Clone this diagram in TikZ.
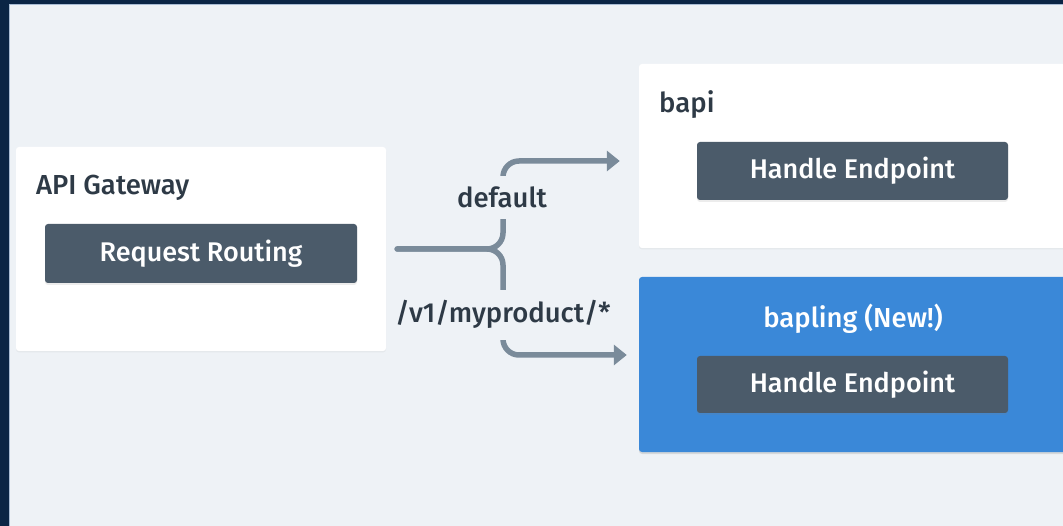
\documentclass[tikz,border=0pt]{standalone}
\usepackage{fontspec}
\setmainfont{Fira Sans Medium}
\usetikzlibrary{arrows.meta,shadows}

\definecolor{pagebg}{HTML}{EEF2F6}
\definecolor{frame}{HTML}{0B2545}
\definecolor{frameline}{HTML}{A9BCD4}
\definecolor{slate}{HTML}{4B5B6A}
\definecolor{newblue}{HTML}{3A88D8}
\definecolor{wire}{HTML}{7A8B9A}
\definecolor{ink}{HTML}{2E3A46}

\tikzset{
  panel/.style={fill=white, rounded corners=3pt, inner sep=0pt,
    drop shadow={shadow xshift=0pt, shadow yshift=-1.5pt, opacity=0.08}},
  newpanel/.style={panel, fill=newblue,
    drop shadow={shadow xshift=0pt, shadow yshift=-2pt, opacity=0.18}},
  button/.style={fill=slate, rounded corners=3pt, inner sep=0pt,
    text=white, font=\fontsize{27}{31}\selectfont,
    drop shadow={shadow xshift=0pt, shadow yshift=-2pt, opacity=0.15}},
  title/.style={text=ink, inner sep=0pt, font=\fontsize{27.5}{31}\selectfont},
  route/.style={draw=wire, line width=5.5pt, line cap=round,
    rounded corners=16pt, -{Triangle[length=13pt,width=20pt]}},
  routelabel/.style={fill=pagebg, text=ink, inner xsep=2pt, inner ysep=11pt,
    font=\fontsize{27.5}{31}\selectfont}
}

\begin{document}
\begin{tikzpicture}[x=1pt, y=-1pt]
  % canvas and dark frame along the top and left edges
  \useasboundingbox (0,0) rectangle (1063,526);
  \clip (0,0) rectangle (1063,526);
  \fill[pagebg] (0,0) rectangle (1063,526);
  \fill[frame] (0,0) rectangle (1063,4);
  \fill[frame] (0,0) rectangle (9,526);
  \draw[frameline, line width=1pt] (9.5,526) -- (9.5,4.5) -- (1063,4.5);

  % API gateway
  \node[panel, minimum width=370pt, minimum height=204pt] (gw) at (201,249) {};
  \node[title, anchor=base west] (gwtitle) at (36,195) {API Gateway};
  \node[button, minimum width=312pt, minimum height=59pt] (routing) at (201,253.5) {Request Routing};

  % existing service
  \node[panel, minimum width=460pt, minimum height=184pt] (bapi) at (869,156) {};
  \node[title, anchor=base west] (bapititle) at (659,113) {bapi};
  \node[button, minimum width=311pt, minimum height=58pt] (bapiep) at (852.5,171) {Handle Endpoint};

  % new service
  \node[newpanel, minimum width=460pt, minimum height=175pt] (bapling) at (869,364.5) {};
  \node[title, text=white, anchor=base] (baplingtitle) at (853,328) {bapling (New!)};
  \node[button, minimum width=311pt, minimum height=57pt] (baplingep) at (852.5,384.5) {Handle Endpoint};

  % routing fork
  \coordinate (forkin) at ([xshift=11pt]gw.east);
  \draw[route] (forkin) -- (503,249) -- (503,161) -- ([xshift=-19pt,yshift=-5pt]bapi.west);
  \draw[route] (forkin) -- (503,249) -- (503,355) -- ([xshift=-12pt,yshift=9.5pt]bapling.west);

  \node[routelabel, anchor=base] (deflabel) at (502,208) {default};
  \node[routelabel, anchor=base] (pathlabel) at (503,323) {/v1/myproduct/*};
\end{tikzpicture}
\end{document}
